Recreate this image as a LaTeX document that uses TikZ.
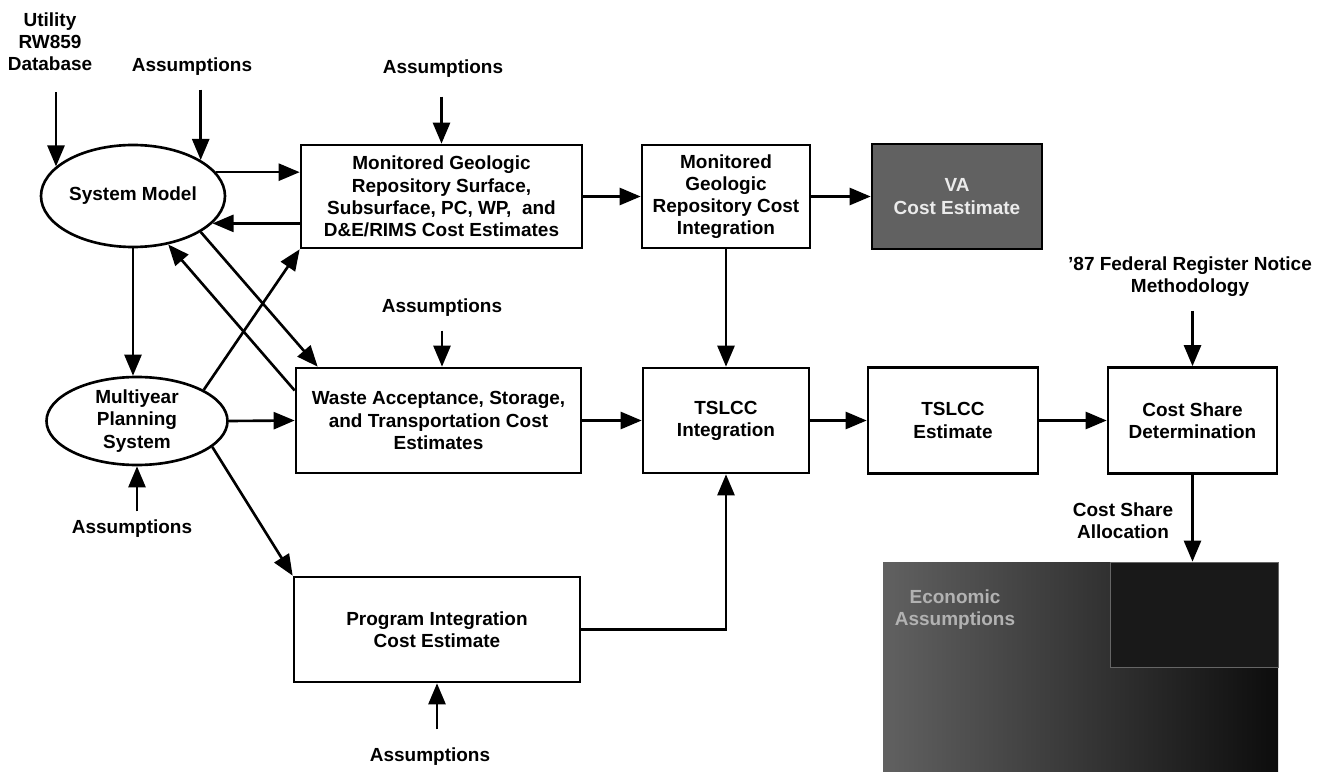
\documentclass[tikz,border=0pt]{standalone}
\usepackage{fontspec}
\setmainfont{Liberation Sans}
\usetikzlibrary{arrows.meta,shapes.geometric}

\begin{document}
\begin{tikzpicture}[x=0.2mm, y=-0.2mm,
  font=\fontsize{10.8}{12.6}\selectfont\bfseries,
  box/.style={draw, line width=1.5pt, align=center, inner sep=0pt},
  oval/.style={draw, ellipse, line width=1.5pt, align=center, inner sep=0pt},
  lbl/.style={align=center, inner sep=2pt},
  arr/.style={line width=1.5pt, -{Triangle[length=4.2mm, width=3.4mm]}},
  feed/.style={arr, shorten <=2mm}]
\useasboundingbox (0,0) rectangle (1325,772);
% models
\node[oval, minimum width=36.8mm, minimum height=20.4mm] (sm) at (133,196) {System Model};
\node[oval, minimum width=36.2mm, minimum height=17.6mm] (mps) at (137,421) {Multiyear\\Planning\\System};
% cost estimate boxes
\node[box, minimum width=56.2mm, minimum height=20.6mm] (mgr) at (441.5,196.5) {Monitored Geologic\\Repository Surface,\\Subsurface, PC, WP,\ \ and\\D\&E/RIMS Cost Estimates};
\node[box, minimum width=33.6mm, minimum height=20.6mm] (mgrci) at (726,196.5) {Monitored\\Geologic\\Repository Cost\\Integration};
\node[box, fill=black!62, text=black!8, minimum width=34mm, minimum height=21mm] (va) at (957,196.5) {VA\\Cost Estimate};
\node[box, minimum width=57mm, minimum height=21mm] (waste) at (438.5,420.5) {Waste Acceptance, Storage,\\and Transportation Cost\\Estimates};
\node[box, minimum width=33.2mm, minimum height=21mm] (tslcci) at (726,420.5) {TSLCC\\Integration};
\node[box, minimum width=34mm, minimum height=21.2mm] (tslcce) at (953,420.5) {TSLCC\\Estimate};
\node[box, minimum width=33.8mm, minimum height=21.2mm] (csd) at (1192.5,420.5) {Cost Share\\Determination};
\node[box, minimum width=57.2mm, minimum height=21mm] (pi) at (437,629.5) {Program Integration\\Cost Estimate};
% shaded corner
\node[inner sep=0pt, left color=black!62, right color=black!95, minimum width=79mm, minimum height=42mm] (eco) at (1080.5,667) {};
\node[draw=black!60, fill=black!90, inner sep=0pt, minimum width=33.6mm, minimum height=21mm] (alloc) at (1194,614.5) {};
\node[lbl, text=black!30] (ecotxt) at (955,610) {Economic\\Assumptions};
% inputs
\node[lbl] (util) at (50,42) {Utility\\RW859\\Database};
\node[lbl] (asmsm) at (192,67) {Assumptions};
\node[lbl] (asmmgr) at (443,69) {Assumptions};
\node[lbl] (asmwa) at (442,308) {Assumptions};
\node[lbl] (asmmps) at (132,529) {Assumptions};
\node[lbl] (asmpi) at (430,757) {Assumptions};
\node[lbl] (fed) at (1190,277) {'87 Federal Register Notice\\Methodology};
\node[lbl] (alloclbl) at (1123,521) {Cost Share\\Allocation};

\draw[feed, shorten <=3.5mm] (sm.159 |- util.south) -- (sm.159);
\draw[feed] (sm.28 |- asmsm.south) -- (sm.28);
\draw[feed, shorten <=3mm] (mgr.north |- asmmgr.south) -- (mgr.north);
\draw[feed] (asmwa.south) -- (asmwa.south |- waste.north);
\draw[feed, shorten <=1mm] (mps.south |- asmmps.north) -- (mps.south);
\draw[feed, shorten <=3mm] (pi.south |- asmpi.north) -- (pi.south);
\draw[feed] (csd.north |- fed.south) -- (csd.north);

\draw[arr] (sm.16) -- (sm.16 -| mgr.west);
\draw[arr] (mgr.west |- sm.-19) -- (sm.-19);
\draw[arr] (sm.south) -- (sm.south |- mps.north);
\draw[arr] (sm.-28) -- ([xshift=4.6mm]waste.north west);
\draw[arr] ([yshift=6mm]waste.west) -- (sm.-54);
\draw[arr] (mps.25) -- (mgr.south west);
\draw[arr] (mps.east) -- (waste.west);
\draw[arr] (mps.-19) -- (pi.north west);

\draw[arr] (mgr.east) -- (mgrci.west);
\draw[arr] (mgrci.east) -- (va.west);
\draw[arr] (mgrci.south) -- (tslcci.north);
\draw[arr] (waste.east) -- (tslcci.west);
\draw[arr] (pi.east) -| (tslcci.south);
\draw[arr] (tslcci.east) -- (tslcce.west);
\draw[arr] (tslcce.east) -- (csd.west);
\draw[arr] (csd.south) -- (csd.south |- alloc.north);
\end{tikzpicture}
\end{document}
